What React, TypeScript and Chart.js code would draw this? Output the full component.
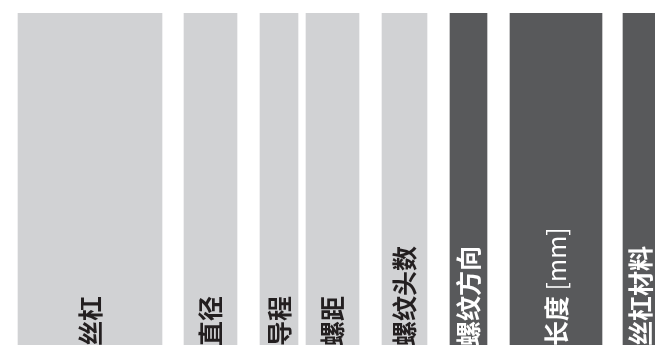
import React, { useEffect, useRef } from "react";
import { Chart, registerables } from "chart.js";

Chart.register(...registerables);

// Column headers (table header strip)
const headers = ["丝杠", "直径", "导程", "螺距", "螺纹头数", "螺纹方向", "长度 [mm]", "丝杠材料"];
// Column spans along the horizontal axis (start / end)
const colStart = [18, 184, 260, 306, 382, 450, 510, 623];
const colEnd = [162, 237, 298, 359, 427, 487, 602, 657];
// Header group of each column
const groups = ["基本", "基本", "基本", "基本", "基本", "附加", "附加", "附加"];

const groupColor: Record<string, string> = { 基本: "#d1d2d4", 附加: "#58595b" };
const groupText: Record<string, string> = { 基本: "#231f20", 附加: "#ffffff" };

const FONT_FAMILY = '"Noto Sans CJK SC"';

function splitRuns(text: string): { t: string; latin: boolean }[] {
  const runs: { t: string; latin: boolean }[] = [];
  for (const ch of text) {
    const latin = ch.charCodeAt(0) < 128;
    const last = runs[runs.length - 1];
    if (last && last.latin === latin) last.t += ch;
    else runs.push({ t: ch, latin });
  }
  return runs;
}

const labelPlugin = {
  id: "headerLabels",
  afterDatasetsDraw(chart: any) {
    const { ctx, scales, chartArea } = chart;
    const xs = scales.x;
    ctx.save();
    ctx.beginPath();
    ctx.rect(chartArea.left, chartArea.top, chartArea.right - chartArea.left, chartArea.bottom - chartArea.top);
    ctx.clip();
    headers.forEach((h, i) => {
      const cx = xs.getPixelForValue((colStart[i] + colEnd[i]) / 2);
      ctx.save();
      ctx.translate(cx, chartArea.bottom + 1);
      ctx.rotate(-Math.PI / 2);
      ctx.fillStyle = groupText[groups[i]];
      ctx.textAlign = "left";
      ctx.textBaseline = "middle";
      let x = 0;
      splitRuns(h).forEach((r) => {
        ctx.font = (r.latin ? "400 25px " : "bold 25px ") + FONT_FAMILY;
        ctx.fillText(r.t, x, 0);
        x += ctx.measureText(r.t).width;
      });
      ctx.restore();
    });
    ctx.restore();
  },
};

export default function App() {
  const ref = useRef<HTMLCanvasElement>(null);
  useEffect(() => {
    if (!ref.current) return;
    const chart = new Chart(ref.current, {
      type: "bar",
      data: {
        labels: ["表头"],
        datasets: headers.map((h, i) => ({
          label: h,
          data: [[colStart[i], colEnd[i]]] as any,
          backgroundColor: groupColor[groups[i]],
          borderWidth: 0,
          grouped: false,
          categoryPercentage: 1,
          barPercentage: 1,
        })),
      },
      options: {
        indexAxis: "y",
        responsive: false,
        animation: false,
        layout: { padding: { top: 13, left: 0, right: 0, bottom: 0 } },
        plugins: { legend: { display: false }, tooltip: { enabled: false } },
        scales: {
          x: { type: "linear", min: 0, max: 655, display: false },
          y: { display: false },
        },
      },
      plugins: [labelPlugin],
    });
    return () => chart.destroy();
  }, []);
  return (
    <div style={{ position: "fixed", left: 0, top: 0, width: 655, height: 345, background: "#ffffff" }}>
      <canvas ref={ref} width={655} height={345} style={{ width: 655, height: 345, display: "block" }} />
    </div>
  );
}
